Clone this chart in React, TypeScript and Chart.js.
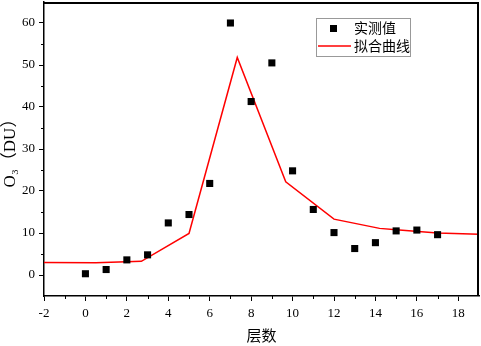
import React, { useEffect, useRef } from "react";
import { Chart, registerables } from "chart.js";

Chart.register(...registerables);

// Measured values (实测值)
const layers = [0, 1, 2, 3, 4, 5, 6, 7, 8, 9, 10, 11, 12, 13, 14, 15, 16, 17];
const measured = [0.3, 1.3, 3.6, 4.8, 12.4, 14.4, 21.8, 60.0, 41.3, 50.5, 24.8, 15.6, 10.1, 6.3, 7.7, 10.5, 10.7, 9.6];

// Fitted curve (拟合曲线)
const fitX = [-2, 0.5, 2.7, 5, 7.33, 9.67, 12, 14.2, 15, 17, 19];
const fitY = [3.0, 2.9, 3.25, 9.9, 51.8, 22.2, 13.3, 11.1, 10.8, 10.0, 9.7];

// Axis ticks
const xMajor = [-2, 0, 2, 4, 6, 8, 10, 12, 14, 16, 18];
const xMinor = [-1, 1, 3, 5, 7, 9, 11, 13, 15, 17];
const yMajor = [0, 10, 20, 30, 40, 50, 60];
const yMinor = [5, 15, 25, 35, 45, 55];

const legendLabels = ["实测值", "拟合曲线"];
const xTitle = "层数";
const yTitle = "O₃（DU）";

const serif = "'Liberation Serif', 'Times New Roman', 'DejaVu Serif', serif";
const cjk = "'Noto Sans CJK SC', 'Noto Sans', sans-serif";

const framePlugin = {
  id: "frameMinorLegend",
  afterDraw(chart: any) {
    const ctx = chart.ctx;
    const a = chart.chartArea;
    const sx = chart.scales.x;
    const sy = chart.scales.y;
    ctx.save();
    ctx.fillStyle = "#000";
    // top and right frame lines, drawn just inside the plot area
    ctx.fillRect(Math.round(a.left), Math.round(a.top), Math.round(a.right - a.left), 2);
    ctx.fillRect(Math.round(a.right) - 2, Math.round(a.top), 2, Math.round(a.bottom - a.top));
    // minor ticks
    for (const v of xMinor) {
      const px = Math.round(sx.getPixelForValue(v));
      ctx.fillRect(px, a.bottom, 1, 3);
    }
    for (const v of yMinor) {
      const py = Math.round(sy.getPixelForValue(v));
      ctx.fillRect(a.left - 3, py, 3, 1);
    }

    // legend
    const bx = 316.5, by = 18.5, bw = 94, bh = 38;
    ctx.fillStyle = "#fff";
    ctx.fillRect(bx, by, bw, bh);
    ctx.strokeStyle = "#999";
    ctx.lineWidth = 1;
    ctx.strokeRect(bx, by, bw, bh);
    ctx.fillStyle = "#000";
    ctx.fillRect(330, 25, 7, 7);
    ctx.strokeStyle = "#ff0000";
    ctx.lineWidth = 1.5;
    ctx.beginPath();
    ctx.moveTo(318, 46);
    ctx.lineTo(351, 46);
    ctx.stroke();
    ctx.fillStyle = "#000";
    ctx.font = `14px ${cjk}`;
    ctx.textAlign = "left";
    ctx.textBaseline = "middle";
    ctx.fillText(legendLabels[0], 354, 28);
    ctx.fillText(legendLabels[1], 354, 46);
    ctx.restore();
  },
};

export default function App() {
  const ref = useRef<HTMLCanvasElement>(null);
  useEffect(() => {
    if (!ref.current) return;
    const chart = new Chart(ref.current, {
      type: "scatter",
      data: {
        datasets: [
          {
            type: "scatter",
            label: legendLabels[0],
            data: layers.map((x, i) => ({ x, y: measured[i] })),
            xAxisID: "x",
            yAxisID: "y",
            pointStyle: "rect",
            pointRadius: 5,
            backgroundColor: "#000",
            borderColor: "#000",
            borderWidth: 0,
            order: 1,
          },
          {
            type: "line",
            label: legendLabels[1],
            data: fitX.map((x, i) => ({ x, y: fitY[i] })),
            xAxisID: "x",
            yAxisID: "y",
            borderColor: "#ff0000",
            borderWidth: 1.5,
            pointRadius: 0,
            fill: false,
            tension: 0,
            order: 2,
          } as any,
        ],
      },
      options: {
        responsive: false,
        animation: false,
        devicePixelRatio: 1,
        layout: { autoPadding: false, padding: { top: 2, right: 2, left: 0, bottom: 0 } },
        plugins: { legend: { display: false }, tooltip: { enabled: false } },
        scales: {
          x: {
            type: "linear",
            position: "bottom",
            min: -2,
            max: 19,
            afterBuildTicks: (s: any) => {
              s.ticks = xMajor.map((v) => ({ value: v }));
            },
            afterFit: (s: any) => {
              s.height = 50;
              s.paddingLeft = 0;
              s.paddingRight = 0;
            },
            grid: { drawOnChartArea: false, drawTicks: true, tickLength: 5, color: "#000", tickColor: "#000" },
            border: { display: true, color: "#000", width: 1.5 },
            ticks: { color: "#000", font: { family: serif, size: 13 }, padding: 5, maxRotation: 0, autoSkip: false },
            title: { display: true, text: xTitle, color: "#000", font: { family: cjk, size: 15 }, padding: { top: 0, bottom: 2 } },
          },
          y: {
            type: "linear",
            position: "left",
            min: -5,
            max: 65,
            afterBuildTicks: (s: any) => {
              s.ticks = yMajor.map((v) => ({ value: v }));
            },
            afterFit: (s: any) => {
              s.width = 44;
              s.paddingTop = 0;
              s.paddingBottom = 0;
            },
            grid: { drawOnChartArea: false, drawTicks: true, tickLength: 5, color: "#000", tickColor: "#000" },
            border: { display: true, color: "#000", width: 1.5 },
            ticks: { color: "#000", font: { family: serif, size: 13 }, padding: 4, autoSkip: false },
            title: { display: true, text: yTitle, color: "#000", font: { family: `${serif}, ${cjk}`, size: 17 }, padding: { top: 0, bottom: 0 } },
          },
        },
      },
      plugins: [framePlugin],
    });
    return () => chart.destroy();
  }, []);
  return (
    <div style={{ position: "fixed", left: 0, top: 0, width: 481, height: 346, background: "#fff" }}>
      <canvas ref={ref} width={481} height={346} />
    </div>
  );
}
